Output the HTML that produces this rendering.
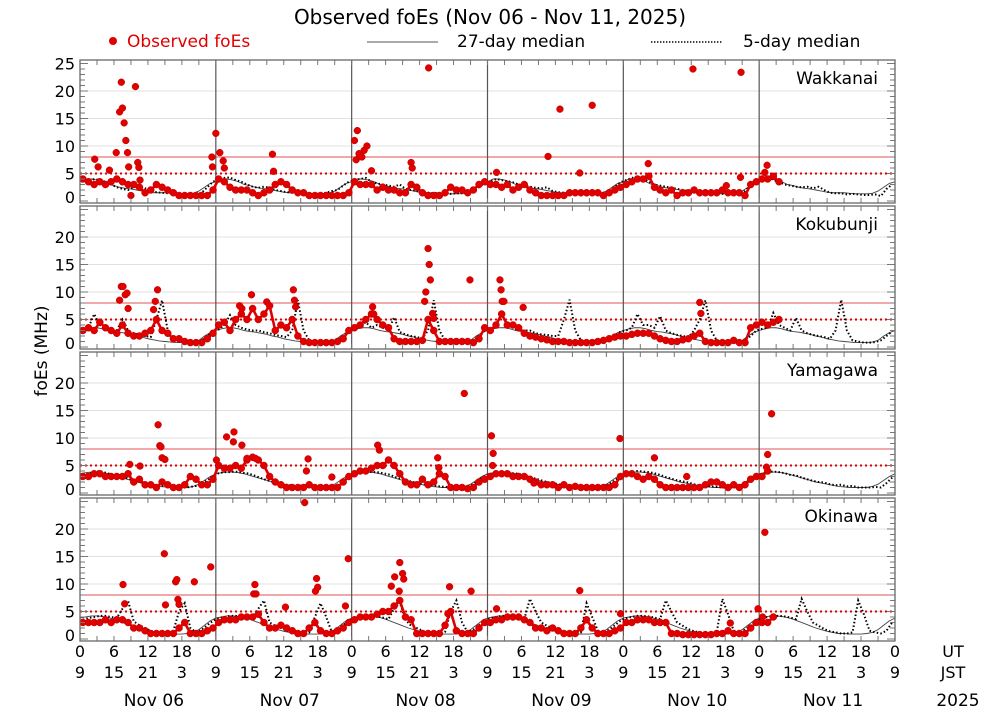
<!DOCTYPE html>
<html><head><meta charset="utf-8">
<style>
html,body{margin:0;padding:0;background:#fff;}
svg{display:block;font-family:"DejaVu Sans","Liberation Sans",sans-serif;}
</style></head>
<body>
<svg id="chart" width="1000" height="714" viewBox="0 0 1000 714" xmlns="http://www.w3.org/2000/svg">
<text x="490" y="24" font-size="20" text-anchor="middle" fill="#000">Observed foEs (Nov 06 - Nov 11, 2025)</text>
<g>
<circle cx="113" cy="41" r="4" fill="#e00000"/>
<text x="127" y="47" font-size="17" fill="#e00000">Observed foEs</text>
<line x1="367" y1="42" x2="438" y2="42" stroke="#555" stroke-width="1"/>
<text x="457" y="47" font-size="17" fill="#000">27-day median</text>
<line x1="651" y1="42" x2="723" y2="42" stroke="#000" stroke-width="1.6" stroke-dasharray="1.4 1.6"/>
<text x="743" y="47" font-size="17" fill="#000">5-day median</text>
</g>
<text transform="translate(47,351) rotate(-90)" font-size="17" text-anchor="middle" fill="#000">foEs (MHz)</text>
<g id="panels"></g>
<g id="xaxis"></g>
</svg>
<script>
const stations = ["Wakkanai","Kokubunji","Yamagawa","Okinawa"];
const yTicks = [0,5,10,15,20,25];
const utLabels = ["0","6","12","18"];
const jstLabels = ["9","15","21","3"];
const dayLabels = ["Nov 06","Nov 07","Nov 08","Nov 09","Nov 10","Nov 11"];
const N = null;

const wakObs = [4,3.5,3,3.5,3,3.5,4,3.5,3,3,2.5,1.5,2,3,2.5,2,1.5,1,1,1,1,1,1,2,
4,3.5,2.5,2,2,2,1.5,1,1.5,2,3,3.5,3,2,1.5,1.5,1,1,1,1,1,1,1,1.5,
3.5,3,3,3,2,2.5,2,2,1.5,1.5,3,2.5,1.5,1,1,1,1.5,2.5,2,2,1.5,2,3,3.5,
3,3,2.5,3,2,2.5,3,2,1.5,1,1,1,1,1,1.5,1.5,1.5,1.5,1.5,1.5,1,1.5,2,2.5,
3,3.5,4,4,4.5,2.5,2,1.5,2,1,1.5,1.5,2,1.5,1.5,1.5,1.5,2,1.5,1.5,1.5,1,3,3.5,
4,4,4.5,3.5,N,N,N,N,N,N,N,N,N,N,N,N,N,N,N,N,N,N,N,N];
const wakSpikeH = [2.6,3.2,5.2,6.4,7,7.3,7.5,7.8,8.1,8.4,8.6,9,9.8,10.2,10.4,10.6,23.3,23.4,24,24.7,25.3,25.5,34,34.2,48.5,49,48.8,49.3,49.8,50.2,50.7,51.5,58.5,58.7,61.6,73.6,82.7,84.8,88.3,90.5,100.4,108.3,114.2,116.7,116.8,121.4,121];
const wakSpikeV = [7.6,6.2,5.6,8.8,16.2,21.6,16.9,14.2,11,8.8,6.2,1,20.8,7,6.1,3.8,8,6.2,12.3,8.8,7.3,6,8.5,5.4,11,12.8,7.5,8.6,8,9.2,10,5.5,7,6,24.2,5.2,8.1,16.7,5.1,17.4,6.8,24,2.8,4.3,23.4,6.5,5.2];
const wak27 = [3.5,4,4,3.8,3.5,3,2.8,2.5,2.3,2.2,2,1.8,1.6,1.5,1.5,1.5,1.4,1.3,1.3,1.3,1.4,1.8,2.5,3.2];
const wak5 = [4,3.5,4,3.8,3.5,3,2.5,2.2,2,2.5,2.8,2.3,2,1.6,1.5,1.4,1.3,1.2,1.2,1.3,1.3,1.5,2.5,3.5,
4,4.2,4.3,3.8,3.5,3,2.6,2.4,2.6,2.4,2,1.8,1.6,1.5,1.5,1.4,1.3,1.3,1.3,1.5,1.8,2,2.8,3.5,
3.8,4,4.2,3.5,3.2,3,2.8,2.6,3,2.2,2,1.8,1.6,1.5,1.4,1.4,1.3,1.3,1.4,1.4,1.6,1.8,2.5,3.3,
3.5,4,3.8,3.6,3.4,3,2.8,2.6,2.4,2.3,2.5,1.8,1.6,1.5,1.4,1.4,1.3,1.3,1.3,1.4,1.5,1.8,2.6,3.4,
3.8,4.2,4.4,4,3.5,3,2.8,2.6,2.4,2.2,2,1.8,1.6,1.5,1.4,1.4,1.3,1.3,1.3,1.4,1.5,1.8,2.8,3.6,
4,4.5,3.8,3.5,3,2.8,2.6,2.5,2.6,2.3,2.6,2,1.5,1.4,1.4,1.2,1.3,1.2,1.1,1.1,1.2,0.9,2.2,3];

const kokObs = [3,3.5,3,4.5,3.5,3,2.5,4,2.5,2,2,2.5,3,5,3,2.5,1.5,1.5,1,0.8,0.8,0.8,1.5,2.5,
4,4.5,3,5,6,5,7,5,6,7.5,3,4,3.5,5,2,1,0.8,0.8,0.8,0.8,0.8,1,1.5,3,
3.5,4,5,6,5,4,3.5,1.5,1,1,1,1,1.2,5,3,1,1,1,1,1,1,0.8,1.5,3.5,
3,4,6,4,4,3.5,2.5,2,1.8,1.5,1.3,1,1,1,0.8,0.8,0.8,0.8,0.8,1,1.2,1.5,1.8,2,
2,2.3,2.5,2.5,2.5,2,1.5,1.2,1,1,1.3,1.5,2,2.5,1,0.8,0.8,0.8,0.8,1.2,0.8,0.8,3.5,4,
4.5,4,4.5,5,N,N,N,N,N,N,N,N,N,N,N,N,N,N,N,N,N,N,N,N];
const kokSpikeH = [7,7.3,7.6,8,8.3,8.5,13,13.3,13.7,28.2,28.6,30.3,33,37.7,37.9,38.1,51.7,51.9,60.9,61.1,61.5,61.7,61.9,62.3,62.5,68.9,74.2,74.4,74.6,74.9,78.3,109.5,109.7];
const kokSpikeV = [8.5,11,11,9.5,9.8,7,6.8,8.3,10.4,7.5,7,9.5,8.2,10.4,8.5,7.3,7.3,6,8.3,10,17.9,15,12.2,6.1,5.2,12.2,12.2,10.4,8.3,8.3,7.2,8.1,6.1];
const kok27 = [3,3.3,3.5,3.5,3.3,3,2.8,2.7,2.5,2.3,2,1.8,1.5,1.3,1.1,1,0.9,0.8,0.8,0.8,0.9,1.2,2,2.6];
const kok5 = [3,3.5,6,4,3.5,3,3,5,3,2.5,2.2,2,1.8,5,8.5,3,1.2,1,0.8,0.8,0.9,1.2,2,2.8,
3.2,4,5.8,4,3.5,3.2,3,3,2.7,2.5,2.2,2,1.8,3,8.5,3,1.2,1,0.8,0.8,0.9,1.2,2,2.8,
3.5,4,4.5,3.5,4,3.5,3,5.4,2.7,2.3,2,1.8,1.6,3,8.5,3,1.2,1,0.8,0.8,0.9,1.2,2,3,
3.2,4,6,4,3.5,3,3,3,2.5,2.3,2.2,2,2,5,8.6,3,1.2,1,0.8,0.8,0.9,1.2,2,2.8,
3,3.5,6,4,4,3.5,5.6,3,2.5,2.2,2,1.8,3,5,8.5,3,1.2,1,0.8,0.8,0.9,1.2,2,3,
3.3,3.5,6.2,4,3.5,3,5.3,3,2.5,2.2,2,1.8,1.5,3,8.6,3,1.2,1,0.8,0.8,0.9,1.2,2,2.8];

const yamObs = [3,3,3.5,3.5,3,3,3,3,3.5,2,2.5,1.5,1.5,1,2,1.5,1,1,1.5,3,2.5,1.5,1.5,2.5,
5,4.5,4.5,5,4.5,6,6.5,6,5,3,2,1.5,1,1,1,1,1.5,1,1,1,1,1,2,3,
3.5,4,4,4.5,5,5,6,5,3.5,2,1.5,1.5,2.5,1.5,2,3.5,3,1,1,1,0.8,1,2,2.5,
3,3.5,3.5,3.5,3,3,3,2.5,2,1.5,1.5,1.5,1,1.5,1,1.2,1,1,1,1,1,1,1.5,3,
3.5,3.5,3,2.5,3,2.5,1.5,1,1,1,1,1,1,1,1.5,2,2,1.5,1,1.5,1,1.5,2.5,3,
3,4,N,N,N,N,N,N,N,N,N,N,N,N,N,N,N,N,N,N,N,N,N,N];
const yamSpikeH = [8.8,10.6,13.8,14.1,14.5,14.3,15,24.1,25.9,27.2,27.1,28.6,29.5,31,40.3,40,44.5,52.6,52.9,63.2,63.4,67.9,72.7,73,72.9,80.2,95.4,101.5,107.2,121.5,122.2,121.3];
const yamSpikeV = [5.2,4.9,12.4,8.6,6.4,8.4,6.1,6,10.2,11.1,9.3,8.7,6.3,6.3,6.2,4,2.9,8.7,7.8,6.4,4.6,18.1,10.4,7.2,5,1.8,9.9,6.4,3,7,14.4,4.7];
const yam27 = [3.5,3.7,3.8,3.8,3.7,3.5,3.2,2.9,2.6,2.3,2,1.8,1.6,1.4,1.2,1.1,1,1,1,1,1.2,1.6,2.3,3];
const yam5 = [3.3,3.5,3.8,4,3.7,3.4,3.2,2.9,2.6,2.2,2,1.8,1.5,1.4,1.3,1.2,1.1,1,1,1.1,1.3,1.7,2.3,3,
3.6,3.8,3.8,3.9,3.7,3.6,3.3,2.9,2.5,2.2,1.9,1.7,1.5,1.4,1.3,1.4,1.1,1,1,1,1.1,1.5,2.2,3,
3.5,3.7,4,3.8,3.8,3.6,3.4,3,2.6,2.3,2.1,1.8,1.6,1.5,1.4,1.2,1.1,1,1,1,1.2,1.6,2.4,3.1,
3.4,3.6,3.8,3.8,3.6,3.5,3.2,2.9,2.6,2.3,2,1.8,1.6,1.4,1.3,1.2,1.1,1,1,1,1.2,1.6,2.3,3,
3.5,3.8,4,3.9,3.8,3.6,3.3,2.9,2.6,2.3,2.1,1.9,1.6,1.4,1.3,1.2,1.1,1,1,1,1.2,1.6,2.4,3.1,
3.5,3.8,3.9,3.8,3.6,3.3,3.2,2.8,2.5,2.2,2,1.9,1.6,1.4,1.5,1.2,1.3,1,1,1,1.1,1,1.8,2.8];

const okiObs = [3,3,3,3,3.5,3,3.5,3.5,3,2,2,1.5,1,1,1,1,1,2,3,1,1,1,1.5,2,
3,3.5,3.5,3.5,4,4,4,4.5,3,2,2,2.5,2,1.5,1,1,2,3,1.5,1,1,1.5,2,3,
3.5,4,4,4,4.5,5,5,6,7,4,3.5,1,1,1,1,1,2.5,5,1.5,1,1,1,2,3,
3,3.5,3.5,4,4,4,3.5,3,2,2,1.5,2,1.5,1,1,1,2,3.5,2,1,1,1,1.5,2,
3,3,3.5,3.5,3.5,3,3,3,1,1,0.8,0.8,0.8,0.8,0.8,0.8,1,1,1.5,1,1,1,2,3,
3,3,4,N,N,N,N,N,N,N,N,N,N,N,N,N,N,N,N,N,N,N,N,N];
const okiSpikeH = [7.6,7.9,14.9,15.1,16.9,17.1,17.3,17.5,20.2,23.1,30.9,30.7,31.1,36.3,39.7,41.8,42,41.6,46.9,47.4,55,55.6,56.5,57,57.2,56.4,65.3,65,69.1,73.6,88.3,95.5,114.9,119.8,121,120.6];
const okiSpikeV = [9.9,6.4,15.5,6.2,10.4,10.8,7.2,6.3,10.4,13.1,9.9,8.2,8.2,5.8,24.8,11,9.4,8.7,6,14.6,9.6,11.3,13.9,11.9,10.9,8.7,9.5,4.6,8.7,5.5,8.8,4.6,2.9,5.5,19.4,4];
const oki27 = [3.8,4,4.2,4.2,4.1,3.9,3.6,3.2,2.8,2.4,2,1.7,1.4,1.2,1,1,0.9,0.9,0.9,1,1.2,1.7,2.5,3.3];
const oki5 = [3.5,3.8,4,4.2,4.2,4,3.8,5.5,6.9,3.2,2.5,2,1.5,1.2,1.1,1,1.5,5,6.5,2,1.2,1.7,2.5,3.3,
3.8,4,4.2,4.2,4.1,3.9,3.6,5.5,7,3,2.4,2,1.5,1.2,1.1,1,1.2,4,6.5,4,1.2,1.7,2.5,3.3,
3.8,4,4.2,4.3,4.1,3.9,3.6,5.5,6.7,3.5,2.4,2,1.5,1.2,1,1,1.3,5,7,3,1.2,1.7,2.5,3.3,
3.8,4,4.2,4.2,4,3.9,3.6,7.3,5,3,2.4,2,1.5,1.2,1,1,1.2,6.5,4,1.5,1.2,1.7,2.5,3.3,
3.8,4,4.2,4.2,4.1,3.9,3.6,7,5,3,2.4,1.8,1.4,1.2,1,1,1.2,7.3,4.5,1.5,1.2,1.7,2.5,3.3,
3.8,4,4.2,4.2,4.1,3.9,3.6,7.3,5,3,2.4,1.8,1.4,1.2,1,1,1.2,7,4.5,1.5,1.2,1,1.5,3];

const obsAll = [wakObs,kokObs,yamObs,okiObs];
const spikeHAll = [wakSpikeH,kokSpikeH,yamSpikeH,okiSpikeH];
const spikeVAll = [wakSpikeV,kokSpikeV,yamSpikeV,okiSpikeV];
const med27All = [wak27,kok27,yam27,oki27];
const med5All = [wak5,kok5,yam5,oki5];

const NS = "http://www.w3.org/2000/svg";
const X0 = 80, X1 = 895, HOURS = 144;
function xScale(h){ return X0 + h*(X1-X0)/HOURS; }
function panelTop(k){ return 60 + 146*k; }
function yScale(k,v){ return panelTop(k) + 141 - 5.5*v; }
function mk(tag, attrs, parent){
  const e = document.createElementNS(NS, tag);
  for (const a in attrs) e.setAttribute(a, attrs[a]);
  parent.appendChild(e);
  return e;
}
const panels = document.getElementById("panels");

stations.forEach((name,k)=>{
  const T = panelTop(k), B = T + 143;
  const g = mk("g", {}, panels);
  
  
  const clipId = "clip" + k;
  const cp = mk("clipPath", {id: clipId}, g);
  mk("rect", {x: X0, y: T, width: X1-X0, height: B-T}, cp);
  [5,10,15,20].forEach(v=>{
    const gl = mk("line", {x1:X0, x2:X1, y1:yScale(k,v), y2:yScale(k,v), stroke:"#e0e0e0", "stroke-width":1}, g);
    
    
  });
  const r8 = mk("line", {x1:X0, x2:X1, y1:yScale(k,8), y2:yScale(k,8), stroke:"#e05050", "stroke-width":1}, g);
  
  
  const r5 = mk("line", {x1:X0, x2:X1, y1:yScale(k,5), y2:yScale(k,5), stroke:"#dd0000", "stroke-width":2, "stroke-dasharray":"2 3"}, g);
  
  
  for (let d=1; d<6; d++){
    const sep = mk("line", {x1:xScale(d*24), x2:xScale(d*24), y1:T, y2:B, stroke:"#555", "stroke-width":1.2}, g);
    
    
  }
  const data = mk("g", {"clip-path": "url(#"+clipId+")"}, g);
  let pts27 = [];
  for (let h=0; h<=HOURS; h++){ const prof = med27All[k]; pts27.push(xScale(h)+","+yScale(k, prof[h%24])); }
  const l27 = mk("polyline", {points: pts27.join(" "), fill:"none", stroke:"#444", "stroke-width":0.9}, data);
  
  
  const m5 = med5All[k];
  const pts5 = m5.map((v,h)=> xScale(h+0.5)+","+yScale(k,v));
  const l5 = mk("polyline", {points: pts5.join(" "), fill:"none", stroke:"#000", "stroke-width":2, "stroke-dasharray":"1.5 2.2"}, data);
  
  
  const obs = obsAll[k];
  let seg = [];
  const segs = [];
  obs.forEach((v,h)=>{ if (v===null){ if(seg.length) segs.push(seg); seg=[]; } else seg.push(xScale(h+0.5)+","+yScale(k,v)); });
  if (seg.length) segs.push(seg);
  segs.forEach(s=>{
    const tr = mk("polyline", {points: s.join(" "), fill:"none", stroke:"#e00000", "stroke-width":2.6, "stroke-linejoin":"round", "stroke-linecap":"round"}, data);
    
    
  });
  obs.forEach((v,h)=>{
    if (v===null) return;
    const c = mk("circle", {cx: xScale(h+0.5), cy: yScale(k,v), r:3.5, fill:"#e00000", stroke:"#c00000", "stroke-width":0.5}, data);
    
    
  });
  const sh = spikeHAll[k], sv = spikeVAll[k];
  sh.forEach((h,i)=>{
    const c = mk("circle", {cx: xScale(h), cy: yScale(k, sv[i]), r:3.4, fill:"#e00000", stroke:"#c00000", "stroke-width":0.5}, data);
    
    
  });
  for (let v=0; v<=25; v++){
    const len = (v%5===0) ? 8 : 5;
    mk("line", {x1:X0, x2:X0+len, y1:yScale(k,v), y2:yScale(k,v), stroke:"#777", "stroke-width":1}, g);
    mk("line", {x1:X1-len, x2:X1, y1:yScale(k,v), y2:yScale(k,v), stroke:"#777", "stroke-width":1}, g);
  }
  for (let h=3; h<HOURS; h+=3){
    mk("line", {x1:xScale(h), x2:xScale(h), y1:B, y2:B-5, stroke:"#777", "stroke-width":1}, g);
    mk("line", {x1:xScale(h), x2:xScale(h), y1:T, y2:T+5, stroke:"#777", "stroke-width":1}, g);
  }
  const fr = mk("rect", {x:X0, y:T, width:X1-X0, height:B-T, fill:"none", stroke:"#666", "stroke-width":1.3}, g);
  
  
  yTicks.forEach(v=>{
    if (k>0 && v===25) return;
    const yy = v===0 ? yScale(k,v)-4 : yScale(k,v);
    const t = mk("text", {x:75, y:yy+6, "font-size":16, "text-anchor":"end", fill:"#000"}, g);
    t.textContent = v;
    
    
  });
  const st = mk("text", {x:878, y:T+24, "font-size":17, "text-anchor":"end", fill:"#000"}, g);
  st.textContent = name;
  
  
});

const xa = document.getElementById("xaxis");
for (let d=0; d<=6; d++){
  for (let i=0; i<4; i++){
    if (d===6 && i>0) break;
    const h = d*24 + i*6;
    const t1 = mk("text", {x:xScale(h), y:657, "font-size":16, "text-anchor":"middle", fill:"#000"}, xa);
    t1.textContent = utLabels[i];
    
    
    const t2 = mk("text", {x:xScale(h), y:678, "font-size":16, "text-anchor":"middle", fill:"#000"}, xa);
    t2.textContent = jstLabels[i];
    
    
  }
}
dayLabels.forEach((lab,d)=>{
  const t = mk("text", {x:xScale(d*24+12)+6, y:706, "font-size":17, "text-anchor":"middle", fill:"#000"}, xa);
  t.textContent = lab;
  
  
});
[["UT",953,657],["JST",953,678],["2025",958,706]].forEach(a=>{
  const t = mk("text", {x:a[1], y:a[2], "font-size": a[0]==="2025"?17:16, "text-anchor":"middle", fill:"#000"}, xa);
  t.textContent = a[0];
  
  
});
</script>
</body></html>
